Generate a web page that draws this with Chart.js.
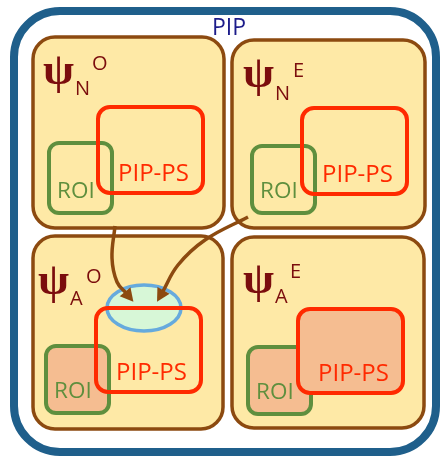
<!DOCTYPE html>
<html>
<head>
<meta charset="utf-8">
<script src="https://cdn.jsdelivr.net/npm/chart.js@4.4.1/dist/chart.umd.min.js"></script>
<style>
  body { margin: 0; background: #fff; }
  #wrap { width: 441px; height: 457px; }
</style>
</head>
<body>
<div id="wrap"><canvas id="diagram" width="441" height="457"></canvas></div>
<script>
// diagram units: same grid as the picture (x 0..441, y 0..457 downward)
const title = 'PIP';
const quadSub = ['N', 'N', 'A', 'A'];
const quadSup = ['O', 'E', 'O', 'E'];
const quadX0 = [33, 232, 33, 232];
const quadX1 = [224, 425, 223, 424];
const quadY0 = [37, 40, 236, 237];
const quadY1 = [228, 228, 429, 428];

const roiX0 = [49, 252, 46, 248];
const roiX1 = [112, 315, 109, 311];
const roiY0 = [143, 146, 346, 347];
const roiY1 = [213, 213, 413, 414];
const roiFilled = [false, false, true, true];

const psX0 = [98, 302, 96, 298];
const psX1 = [203, 407, 201, 403];
const psY0 = [107, 108, 308, 309];
const psY1 = [193, 194, 392, 393];
const psFilled = [false, false, false, true];

// psi glyph box (left, bottom), sub/superscript (left, baseline)
const psiX = [43, 243, 38, 243];
const psiY = [93, 96, 303, 302];
const subX = [75, 275, 70, 275];
const subY = [95, 100, 305, 303];
const supX = [92, 293, 86, 290];
const supY = [70, 77, 283, 278];

const blobX = 144, blobY = 308, blobRx = 37, blobRy = 23;

const arrow1 = [{x: 115, y: 226}, {x: 112, y: 258}, {x: 117, y: 282}, {x: 127, y: 294}];
const arrow2 = [{x: 248, y: 217}, {x: 205, y: 240}, {x: 178, y: 265}, {x: 162, y: 293}];

const BROWN = '#8c4a10';
const PSI_FONT = 'bold 45px "Liberation Serif"';

function rr(ctx, x0, y0, x1, y1, r) {
    ctx.beginPath();
    ctx.roundRect(x0, y0, x1 - x0, y1 - y0, r);
}

const diagramPlugin = {
    id: 'diagram',
    beforeDatasetsDraw(chart) {
        const ctx = chart.ctx;
        const xs = chart.scales.x, ys = chart.scales.y;
        const px = v => xs.getPixelForValue(v);
        const py = v => ys.getPixelForValue(v);
        ctx.save();
        // outer PIP frame
        ctx.lineWidth = 8;
        ctx.strokeStyle = '#1f5f8b';
        rr(ctx, px(14), py(11), px(436), py(452), 46);
        ctx.stroke();
        ctx.fillStyle = '#1c1c8a';
        ctx.font = '23px "Open Sans"';
        ctx.textAlign = 'center';
        ctx.textBaseline = 'alphabetic';
        ctx.fillText(title, px(229), py(35));

        // quadrants
        for (let i = 0; i < 4; i++) {
            rr(ctx, px(quadX0[i]), py(quadY0[i]), px(quadX1[i]), py(quadY1[i]), 22);
            ctx.fillStyle = '#fee9a6';
            ctx.fill();
            ctx.lineWidth = 3.5;
            ctx.strokeStyle = BROWN;
            ctx.stroke();
        }

        // shared region
        ctx.beginPath();
        ctx.ellipse(px(blobX), py(blobY), blobRx, blobRy, 0, 0, Math.PI * 2);
        ctx.fillStyle = '#d7f7d7';
        ctx.fill();
        ctx.lineWidth = 3.5;
        ctx.strokeStyle = '#66aadd';
        ctx.stroke();
        ctx.restore();
    },
    afterDatasetsDraw(chart) {
        const ctx = chart.ctx;
        const xs = chart.scales.x, ys = chart.scales.y;
        const px = v => xs.getPixelForValue(v);
        const py = v => ys.getPixelForValue(v);
        ctx.save();

        // arrow heads
        chart.data.datasets.forEach((ds, di) => {
            const pts = chart.getDatasetMeta(di).data;
            const last = pts[pts.length - 1];
            const dx = last.x - last.cp1x, dy = last.y - last.cp1y;
            const len = Math.hypot(dx, dy) || 1;
            const ux = dx / len, uy = dy / len;
            const L = 13, W = 7;
            const tx = last.x + ux * (L - 3), ty = last.y + uy * (L - 3);
            const bx = tx - ux * L, by = ty - uy * L;
            ctx.beginPath();
            ctx.moveTo(tx, ty);
            ctx.lineTo(bx - uy * W, by + ux * W);
            ctx.lineTo(bx + uy * W, by - ux * W);
            ctx.closePath();
            ctx.fillStyle = BROWN;
            ctx.fill();
        });

        for (let i = 0; i < 4; i++) {
            // ROI
            rr(ctx, px(roiX0[i]), py(roiY0[i]), px(roiX1[i]), py(roiY1[i]), 10);
            if (roiFilled[i]) { ctx.fillStyle = '#f5bd91'; ctx.fill(); }
            ctx.lineWidth = 4;
            ctx.strokeStyle = '#5f8f3e';
            ctx.stroke();
            // PIP-PS
            rr(ctx, px(psX0[i]), py(psY0[i]), px(psX1[i]), py(psY1[i]), 12);
            if (psFilled[i]) { ctx.fillStyle = '#f5bd91'; ctx.fill(); }
            ctx.lineWidth = 4;
            ctx.strokeStyle = '#ff2a00';
            ctx.stroke();
        }

        ctx.textAlign = 'left';
        ctx.textBaseline = 'alphabetic';
        ctx.font = PSI_FONT;
        const m = ctx.measureText('\u03C8');
        const psiDesc = Math.min(m.actualBoundingBoxDescent, 12);

        for (let i = 0; i < 4; i++) {
            ctx.font = '22.5px "Open Sans"';
            ctx.fillStyle = '#5f8f3e';
            ctx.fillText('ROI', px(roiX0[i] + 8), py(roiY1[i] - 15));
            ctx.font = '24px "Open Sans"';
            ctx.fillStyle = '#ff2a00';
            ctx.fillText('PIP-PS', px(psX0[i] + 20), py(psY1[i] - 12));

            ctx.fillStyle = '#7b0d0d';
            ctx.font = PSI_FONT;
            ctx.fillText('\u03C8', px(psiX[i]), py(psiY[i]) - psiDesc);
            ctx.font = '20px "Open Sans"';
            ctx.fillText(quadSub[i], px(subX[i]), py(subY[i]));
            ctx.fillText(quadSup[i], px(supX[i]), py(supY[i]));
        }
        ctx.restore();
    }
};

function arrowDataset(points) {
    return {
        data: points,
        borderColor: BROWN,
        borderWidth: 3.5,
        tension: 0.4,
        pointRadius: 0,
        fill: false
    };
}

new Chart(document.getElementById('diagram').getContext('2d'), {
    type: 'line',
    data: { datasets: [arrowDataset(arrow1), arrowDataset(arrow2)] },
    options: {
        responsive: false,
        animation: false,
        layout: { padding: 0 },
        plugins: { legend: { display: false }, tooltip: { enabled: false } },
        scales: {
            x: { type: 'linear', min: 0, max: 441, display: false },
            y: { type: 'linear', min: 0, max: 457, reverse: true, display: false }
        }
    },
    plugins: [diagramPlugin]
});
</script>
</body>
</html>
